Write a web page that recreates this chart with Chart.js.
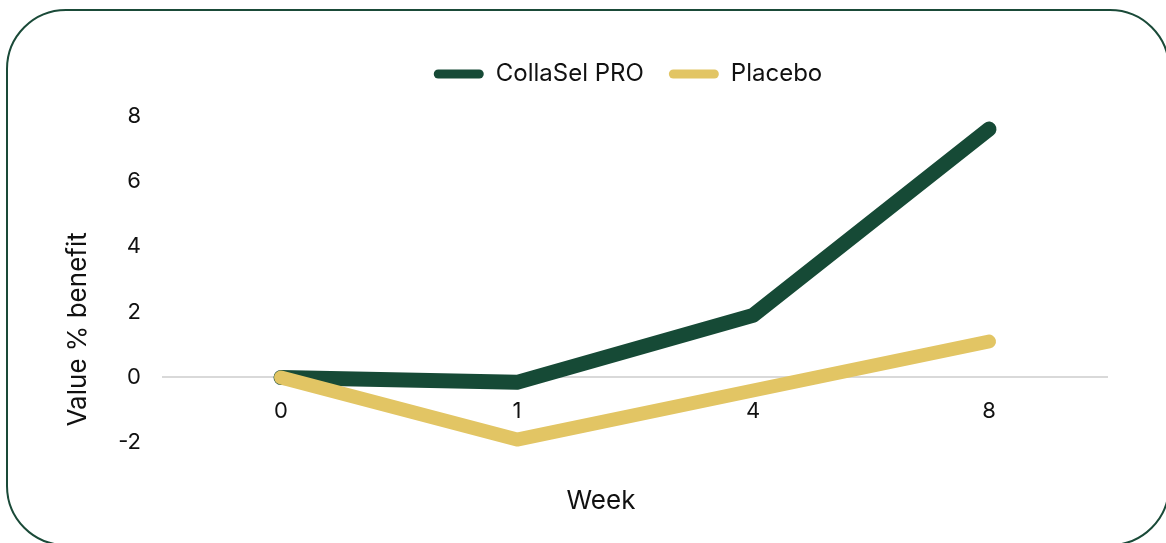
<!DOCTYPE html>
<html>
<head>
<meta charset="utf-8">
<script src="https://cdn.jsdelivr.net/npm/chart.js@4/dist/chart.umd.min.js"></script>
<style>
  html, body { margin: 0; padding: 0; background: #fff; overflow: hidden; }
  #frame {
    position: absolute; left: 6px; top: 9px; width: 1164px; height: 537px;
    border: 2px solid #1a4a38; border-radius: 60px; box-sizing: border-box;
  }
  #wrap { position: absolute; left: 0; top: 0; width: 1166px; height: 543px; }
</style>
</head>
<body>
<div id="frame"></div>
<div id="wrap"><canvas id="chart"></canvas></div>
<script>
// Weeks on the x axis
const weeks = ["0", "1", "4", "8"];

// % benefit per week
const collaselValues = [0, -0.15, 1.9, 7.6];
const placeboValues = [0, -1.9, -0.4, 1.1];

const yTicks = [-2, 0, 2, 4, 6, 8];

const green = "#164a36";
const gold = "#e2c564";
const font = "Inter, 'Noto Sans', sans-serif";

Chart.defaults.font.family = font;
Chart.defaults.color = "#111";

// extra room between legend and plot, and nudge legend right
const legendTweak = {
  id: "legendTweak",
  beforeInit(chart) {
    const legend = chart.legend;
    const fit = legend.fit;
    const draw = legend.draw;
    legend.fit = function () {
      fit.call(legend);
      legend.height += 20;
    };
    legend.draw = function () {
      legend.ctx.save();
      legend.ctx.translate(47, 0);
      draw.call(legend);
      legend.ctx.restore();
    };
  }
};

// move an axis title off the plot centre, like Excel does
function shiftTitle(scale, dx, dy) {
  if (scale._titleShifted) return;
  const drawTitle = scale.drawTitle;
  scale.drawTitle = function () {
    scale.ctx.save();
    scale.ctx.translate(dx, dy);
    drawTitle.call(scale);
    scale.ctx.restore();
  };
  scale._titleShifted = true;
}

new Chart(document.getElementById("chart"), {
  type: "line",
  data: {
    labels: weeks,
    datasets: [
      {
        label: "CollaSel PRO",
        data: collaselValues,
        borderColor: green,
        backgroundColor: green,
        borderWidth: 15,
        borderCapStyle: "round",
        borderJoinStyle: "round",
        pointRadius: 0,
        tension: 0,
        order: 2,
        clip: false
      },
      {
        label: "Placebo",
        data: placeboValues,
        borderColor: gold,
        backgroundColor: gold,
        borderWidth: 14,
        borderCapStyle: "round",
        borderJoinStyle: "round",
        pointRadius: 0,
        tension: 0,
        order: 1,
        clip: false
      }
    ]
  },
  plugins: [legendTweak],
  options: {
    responsive: true,
    maintainAspectRatio: false,
    animation: false,
    layout: { padding: { left: 55, right: 59, top: 37, bottom: 26 } },
    plugins: {
      tooltip: { enabled: false },
      legend: {
        display: true,
        position: "top",
        labels: {
          boxWidth: 50,
          boxHeight: 9,
          useBorderRadius: true,
          borderRadius: 4.5,
          padding: 25,
          font: { size: 24 },
          color: "#111",
          sort: (a, b) => a.datasetIndex - b.datasetIndex,
          generateLabels: (chart) =>
            Chart.defaults.plugins.legend.labels.generateLabels(chart).map(item => ({
              ...item,
              lineWidth: 0,
              strokeStyle: "transparent"
            }))
        }
      }
    },
    scales: {
      x: {
        type: "category",
        offset: true,
        position: "bottom",
        afterFit: (scale) => shiftTitle(scale, -34, 0),
        grid: { display: false },
        border: { display: false },
        ticks: { display: false },
        title: {
          display: true,
          text: "Week",
          font: { size: 26 },
          color: "#111",
          padding: { top: 35, bottom: 0 }
        }
      },
      x2: {
        type: "category",
        labels: weeks,
        offset: true,
        position: { y: 0 },
        grid: { display: false, drawTicks: false },
        border: { display: true, color: "#d9d9d9", width: 2 },
        ticks: { padding: 21, font: { size: 22 }, color: "#111" }
      },
      y: {
        min: -2,
        max: 8,
        afterBuildTicks: (scale) => { scale.ticks = yTicks.map(v => ({ value: v })); },
        afterFit: (scale) => {
          scale.width = 108;
          shiftTitle(scale, 0, 50);
        },
        grid: { display: false, drawTicks: false },
        border: { display: false },
        ticks: { padding: 22, font: { size: 22 }, color: "#111" },
        title: {
          display: true,
          text: "Value % benefit",
          font: { size: 26 },
          color: "#111",
          padding: { top: 8, bottom: 0 }
        }
      }
    }
  }
});
</script>
</body>
</html>
